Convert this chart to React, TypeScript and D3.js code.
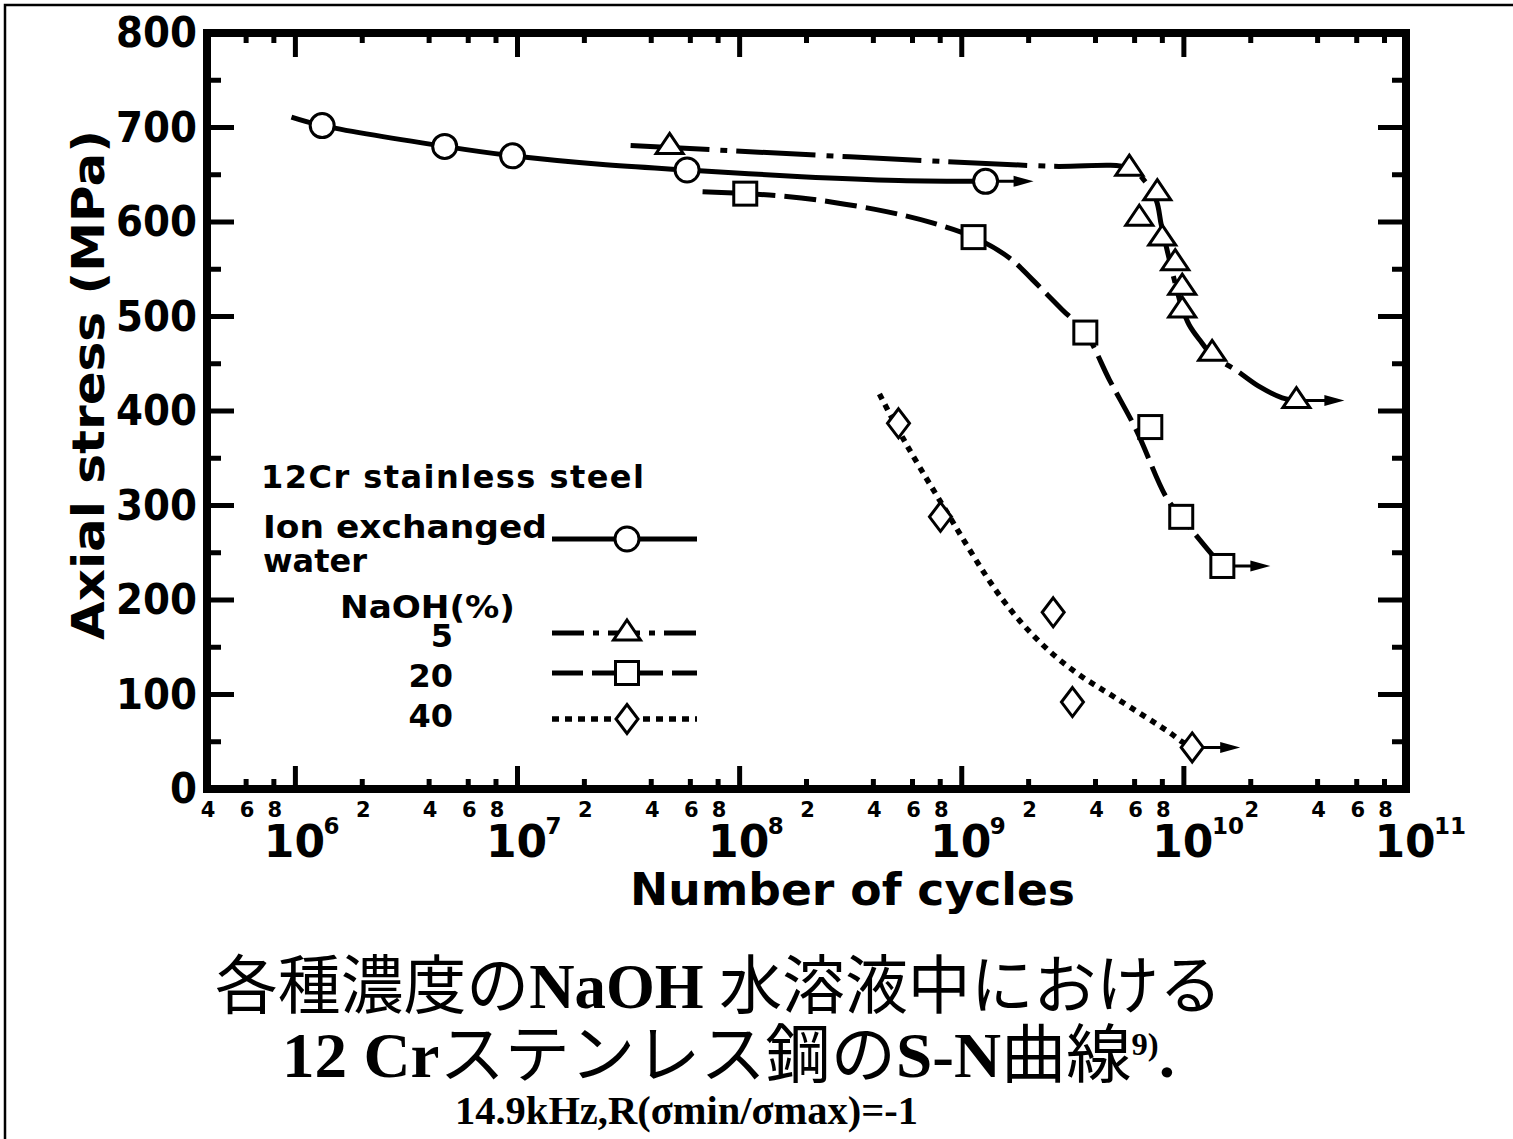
import React from "react";
import * as d3 from "d3";

type P = [number, number];

const WIDTH = 1513;
const HEIGHT = 1139;

// ---- axis definitions ----
const X_DOMAIN: P = [4e5, 1e11];
const Y_DOMAIN: P = [0, 800];
const yMajorTicks = [0, 100, 200, 300, 400, 500, 600, 700, 800];
const yMinorTicks = [50, 150, 250, 350, 450, 550, 650, 750];
const xDecadeExponents = [6, 7, 8, 9, 10, 11];
const xMinorMultipliers = [2, 4, 6, 8];

// ---- data (N cycles, stress MPa) ----
// Ion exchanged water (circles)
const waterPoints: P[] = [
  [1.32e6, 702], [4.7e6, 680], [9.5e6, 670], [5.8e7, 655], [1.28e9, 643],
];
const waterCurve: P[] = [
  [9.6e5, 711], [1.32e6, 702], [4.7e6, 680], [9.5e6, 670], [2.35e7, 661],
  [5.8e7, 655], [1.9e8, 648], [5.2e8, 644], [1.28e9, 643],
];

// NaOH 5% (triangles)
const naoh5Points: P[] = [
  [4.84e7, 680], [5.68e9, 657], [7.59e9, 631], [6.3e9, 604], [7.99e9, 583],
  [9.14e9, 557], [9.83e9, 531], [9.83e9, 507], [1.34e10, 461], [3.21e10, 411],
];
const naoh5Curve: P[] = [
  [3.23e7, 681], [3.13e8, 669], [2.48e9, 659], [5.68e9, 657], [6.63e9, 644],
  [7.51e9, 623], [7.91e9, 597], [8.41e9, 570], [9.05e9, 539], [9.73e9, 512],
  [1.057e10, 491], [1.197e10, 473], [1.34e10, 459], [1.72e10, 443],
  [2.18e10, 426], [2.77e10, 414], [3.21e10, 411],
];

// NaOH 20% (squares)
const naoh20Points: P[] = [
  [1.06e8, 630], [1.13e9, 584], [3.6e9, 483], [7.06e9, 383], [9.73e9, 288], [1.49e10, 236],
];
const naoh20Curve: P[] = [
  [6.81e7, 632], [1.06e8, 630], [1.63e8, 627], [2.62e8, 621], [4.58e8, 611],
  [7.38e8, 599], [1.13e9, 584], [1.64e9, 562], [2.08e9, 539], [2.84e9, 507],
  [3.6e9, 483], [4.62e9, 433], [6.1e9, 380], [8.32e9, 309], [9.73e9, 288],
  [1.34e10, 248], [1.49e10, 236],
];

// NaOH 40% (diamonds)
const naoh40Points: P[] = [
  [5.19e8, 387], [8.02e8, 288], [2.58e9, 187], [3.15e9, 92], [1.09e10, 44],
];
const naoh40Curve: P[] = [
  [4.26e8, 418], [5.41e8, 372], [7.93e8, 306], [1.51e9, 202], [2.28e9, 154],
  [3.28e9, 123], [4.96e9, 96], [8.59e9, 60], [9.82e9, 50], [1.09e10, 44],
];

// legend
const legendTitle = "12Cr stainless steel";
const legendWater = ["Ion exchanged", "water"];
const legendNaohTitle = "NaOH(%)";
const legendNaohLabels = ["5", "20", "40"];

type MarkerType = "circle" | "triangle" | "square" | "diamond";

const series = [
  { key: "water", points: waterPoints, curve: waterCurve, marker: "circle" as MarkerType, dash: "none", legendDash: "none", width: 5 },
  { key: "naoh5", points: naoh5Points, curve: naoh5Curve, marker: "triangle" as MarkerType, dash: "79,11,7,9", legendDash: "32,9,6,9", width: 5 },
  { key: "naoh20", points: naoh20Points, curve: naoh20Curve, marker: "square" as MarkerType, dash: "32,9", legendDash: "31,9", width: 5 },
  { key: "naoh40", points: naoh40Points, curve: naoh40Curve, marker: "diamond" as MarkerType, dash: "6,6", legendDash: "7,6", width: 5.5 },
];

const x = d3.scaleLog().domain(X_DOMAIN).range([207, 1406]);
const y = d3.scaleLinear().domain(Y_DOMAIN).range([789, 33]);

const AX_FONT = "'DejaVu Sans', 'Liberation Sans', Arial, sans-serif";
const SERIF = "'Liberation Serif', 'Times New Roman', serif";
const CJK = "'Noto Sans CJK JP', sans-serif";

function Marker({ type, cx, cy }: { type: MarkerType; cx: number; cy: number }) {
  const common = { fill: "#fff", stroke: "#000", strokeWidth: 3 };
  if (type === "circle") return <circle cx={cx} cy={cy} r={12} {...common} />;
  if (type === "square") return <rect x={cx - 11.5} y={cy - 11.5} width={23} height={23} {...common} />;
  if (type === "triangle")
    return <path d={`M${cx},${cy - 13}L${cx + 13.5},${cy + 7}L${cx - 13.5},${cy + 7}Z`} {...common} strokeLinejoin="miter" />;
  return <path d={`M${cx},${cy - 14.5}L${cx + 11},${cy}L${cx},${cy + 14.5}L${cx - 11},${cy}Z`} {...common} />;
}

function Arrow({ cx, cy }: { cx: number; cy: number }) {
  const tip = cx + 48;
  return (
    <g>
      <line x1={cx} y1={cy} x2={tip - 16} y2={cy} stroke="#000" strokeWidth={3} />
      <path d={`M${tip},${cy}L${tip - 20},${cy - 5.5}L${tip - 20},${cy + 5.5}Z`} fill="#000" />
    </g>
  );
}

export default function App() {
  const line = d3
    .line<P>()
    .x((d) => x(d[0]))
    .y((d) => y(d[1]))
    .curve(d3.curveCatmullRom.alpha(0.5));

  const [x0, x1] = x.range();
  const [yb, yt] = y.range();

  const minorVals: number[] = [];
  for (let e = 5; e <= 10; e++) {
    for (const k of xMinorMultipliers) {
      const v = k * Math.pow(10, e);
      if (v >= X_DOMAIN[0] && v < X_DOMAIN[1]) minorVals.push(v);
    }
  }
  const majorVals = xDecadeExponents.map((e) => Math.pow(10, e));

  return (
    <svg
      width={WIDTH}
      height={HEIGHT}
      style={{ position: "absolute", left: 0, top: 0, background: "#fff" }}
    >
      <rect x={0} y={0} width={WIDTH} height={HEIGHT} fill="#fff" />
      {/* outer image border */}
      <rect x={5} y={5} width={WIDTH + 20} height={HEIGHT + 20} fill="none" stroke="#000" strokeWidth={2.5} />

      {/* ticks */}
      <g stroke="#000" strokeWidth={5}>
        {minorVals.filter((v) => v > X_DOMAIN[0]).map((v) => (
          <g key={"xm" + v}>
            <line x1={x(v)} x2={x(v)} y1={yt + 4} y2={yt + 10} />
            <line x1={x(v)} x2={x(v)} y1={yb - 4} y2={yb - 10} />
          </g>
        ))}
        {majorVals.filter((v) => v < X_DOMAIN[1]).map((v) => (
          <g key={"xM" + v}>
            <line x1={x(v)} x2={x(v)} y1={yt + 4} y2={yt + 24} />
            <line x1={x(v)} x2={x(v)} y1={yb - 4} y2={yb - 23} />
          </g>
        ))}
        {yMajorTicks.filter((v) => v > 0 && v < 800).map((v) => (
          <g key={"yM" + v}>
            <line x1={x0 + 4} x2={x0 + 27} y1={y(v)} y2={y(v)} />
            <line x1={x1 - 4} x2={x1 - 28} y1={y(v)} y2={y(v)} />
          </g>
        ))}
        {yMinorTicks.map((v) => (
          <g key={"ym" + v}>
            <line x1={x0 + 4} x2={x0 + 14} y1={y(v)} y2={y(v)} />
            <line x1={x1 - 4} x2={x1 - 14} y1={y(v)} y2={y(v)} />
          </g>
        ))}
      </g>

      {/* frame */}
      <rect x={x0} y={yt} width={x1 - x0} height={yb - yt} fill="none" stroke="#000" strokeWidth={8} />

      {/* y tick labels */}
      <g fontFamily={AX_FONT} fontWeight="bold" fontSize={42} textAnchor="end">
        {yMajorTicks.map((v) => (
          <text key={"yl" + v} x={197} y={y(v) + 14} textLength={String(v).length * 27} lengthAdjust="spacingAndGlyphs">{v}</text>
        ))}
      </g>

      {/* x tick labels */}
      <g fontFamily={AX_FONT} fontWeight="bold">
        {minorVals.map((v) => {
          const k = Math.round(v / Math.pow(10, Math.floor(Math.log10(v) + 1e-9)));
          return (
            <text key={"xl" + v} x={x(v) + 1} y={817} fontSize={21} textAnchor="middle">{k}</text>
          );
        })}
        {xDecadeExponents.map((e) => {
          const px = x(Math.pow(10, e));
          return (
            <g key={"xd" + e}>
              <text x={px - 1} y={857} fontSize={44} textAnchor="middle">10</text>
              <text x={px + 28} y={834} fontSize={23} textAnchor="start">{e}</text>
            </g>
          );
        })}
      </g>

      {/* axis titles */}
      <text
        transform="translate(104,385) rotate(-90)"
        fontFamily={AX_FONT}
        fontWeight="bold"
        fontSize={44}
        textAnchor="middle"
        textLength={510}
        lengthAdjust="spacingAndGlyphs"
      >
        Axial stress (MPa)
      </text>
      <text
        x={630}
        y={905}
        fontFamily={AX_FONT}
        fontWeight="bold"
        fontSize={44}
        textLength={445}
        lengthAdjust="spacingAndGlyphs"
      >
        Number of cycles
      </text>

      {/* data curves */}
      <g fill="none" stroke="#000">
        {series.map((s) => (
          <path key={"c" + s.key} d={line(s.curve) || ""} strokeWidth={s.width}
            strokeDasharray={s.dash === "none" ? undefined : s.dash} />
        ))}
      </g>
      {/* runout arrows */}
      {series.map((s) => {
        const last = s.points[s.points.length - 1];
        return <Arrow key={"a" + s.key} cx={x(last[0])} cy={y(last[1])} />;
      })}
      {/* markers */}
      {series.map((s) => (
        <g key={"m" + s.key}>
          {s.points.map((p, i) => (
            <Marker key={i} type={s.marker} cx={x(p[0])} cy={y(p[1])} />
          ))}
        </g>
      ))}

      {/* legend */}
      <g fontFamily={AX_FONT} fontWeight="bold" fontSize={32}>
        <text x={261} y={488} textLength={383} lengthAdjust="spacing">{legendTitle}</text>
        <text x={263} y={538} textLength={284} lengthAdjust="spacingAndGlyphs">{legendWater[0]}</text>
        <text x={263} y={572}>{legendWater[1]}</text>
        <text x={340} y={618} textLength={175} lengthAdjust="spacingAndGlyphs">{legendNaohTitle}</text>
        {legendNaohLabels.map((t, i) => (
          <text key={t} x={453} y={[647, 687, 727][i]} textAnchor="end">{t}</text>
        ))}
      </g>
      {series.map((s, i) => {
        const ly = [539, 633, 673, 719][i];
        return (
          <g key={"lg" + s.key}>
            <line x1={552} x2={697} y1={ly} y2={ly} stroke="#000" strokeWidth={s.width}
              strokeDasharray={s.legendDash === "none" ? undefined : s.legendDash} />
            <Marker type={s.marker} cx={627} cy={ly} />
          </g>
        );
      })}

      {/* captions */}
      <text x={215} y={1008} fontSize={64} textLength={1007} lengthAdjust="spacingAndGlyphs">
        <tspan fontFamily={CJK}>各種濃度の</tspan>
        <tspan fontFamily={SERIF} fontWeight="bold">NaOH </tspan>
        <tspan fontFamily={CJK}>水溶液中における</tspan>
      </text>
      <text x={282} y={1077} fontSize={64} textLength={893} lengthAdjust="spacingAndGlyphs">
        <tspan fontFamily={SERIF} fontWeight="bold">12 Cr</tspan>
        <tspan fontFamily={CJK}>ステンレス鋼の</tspan>
        <tspan fontFamily={SERIF} fontWeight="bold">S-N</tspan>
        <tspan fontFamily={CJK}>曲線</tspan>
        <tspan fontFamily={SERIF} fontWeight="bold" fontSize={32} dy={-22}>9)</tspan>
        <tspan fontFamily={SERIF} fontWeight="bold" dy={22}>.</tspan>
      </text>
      <text x={455} y={1124} fontFamily={SERIF} fontWeight="bold" fontSize={39} textLength={463} lengthAdjust="spacingAndGlyphs">
        14.9kHz,R(σmin/σmax)=-1
      </text>
    </svg>
  );
}
